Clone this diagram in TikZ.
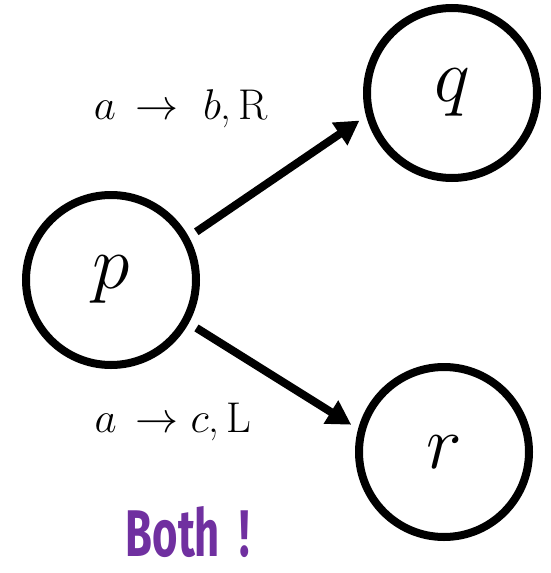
\RequirePackage{fix-cm}
\documentclass[tikz,border=0pt]{standalone}
\usepackage{amsmath,amssymb}
\usepackage{fontspec}
\usepackage{tikz}
\usepackage{xcolor}
\usetikzlibrary{arrows.meta}
\newfontfamily\handfont{Fira Sans}
\definecolor{inkpurple}{RGB}{112,48,160}

\begin{document}
\begin{tikzpicture}[x=1pt, y=-1pt, line width=8pt,
  state/.style={draw, circle, minimum size=170pt, inner sep=0pt, font=\fontsize{76}{76}\selectfont},
  move/.style={-{Triangle[length=24pt,width=26pt]}, shorten <=9pt, shorten >=8pt},
  rule/.style={anchor=base, font=\fontsize{43}{43}\selectfont}]
\useasboundingbox (0,0) rectangle (550,573);
\node[state] (p) at (111,280) {$p$};
\node[state] (q) at (452,93) {$q$};
\node[state] (r) at (444,452) {$r$};
\draw[move] (p.29) -- (q.195);
\draw[move] (p.-29) -- (r.165);
\node[rule] (lq) at (181,119) {$a\,\to\ b$,\,R};
\node[rule] (lr) at (173,432) {$a\,\to c$,\,L};
\node[text=inkpurple, inner sep=0pt, xscale=0.66, font=\handfont\bfseries\fontsize{66}{66}\selectfont] (both) at (188,532) {Both\hspace{0.45em}!};
\end{tikzpicture}
\end{document}
